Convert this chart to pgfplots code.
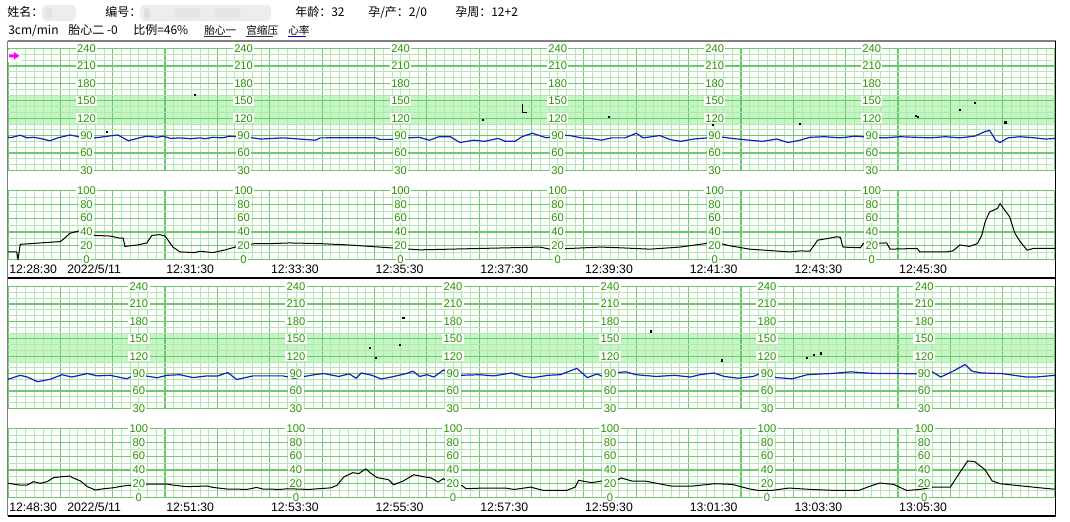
\documentclass[border=0pt]{standalone}
\usepackage{pgfplots}
\pgfplotsset{compat=1.18}
\usepackage{fontspec}
\setmainfont{Liberation Sans}
\newfontfamily\cjk{Noto Sans CJK SC}
\definecolor{gmaj}{RGB}{110,200,110}
\definecolor{gmin}{RGB}{180,230,180}
\definecolor{band}{RGB}{196,246,196}
\definecolor{lbl}{RGB}{40,150,0}
\definecolor{fhr}{RGB}{25,25,200}
\definecolor{pinkarr}{RGB}{255,0,255}
\definecolor{frm}{RGB}{128,128,128}
\pgfplotsset{
  ctg/.style={set layers, scale only axis, width=785.25pt, anchor=north west,
    xmin=0, xmax=1200, axis line style={draw=none},
    xtick={0,60,...,1200}, minor xtick={0,10,...,1200},
    xticklabels={}, yticklabels={}, tick style={draw=none},
    tick label style={overlay, text opacity=0},
    grid=both, major grid style={draw=gmaj, line width=0.9pt},
    minor grid style={draw=gmin, line width=0.6pt}},
  fhrax/.style={ctg, height=91.2pt, ymin=30, ymax=240,
    ytick={30,60,...,240}, minor ytick={30,40,...,240}},
  tocoax/.style={ctg, height=51.75pt, ymin=0, ymax=100,
    ytick={0,20,...,100}, minor ytick={0,10,...,100}},
  fhrline/.style={fhr, line width=0.9pt},
  tocoline/.style={black, line width=0.75pt},
  dots/.style={only marks, mark=square*, mark size=0.4pt, black},
  bandplot/.style={fill=band, draw=none, on layer=axis background, forget plot},
}
\begin{document}
\begin{tikzpicture}
\path (0,0) rectangle (802.5pt,-390.75pt);

% ---------- strip 1 FHR ----------
\begin{axis}[fhrax, at={(6pt,-36.525pt)}]
\addplot[bandplot] coordinates {(0,110)(1200,110)(1200,160)(0,160)(0,110)};
\addplot[fhrline] coordinates {
(0,87)(4,86.6)(14,90.6)(22,86)(29,87)(37,85)(48,81)(57,86)(71,91)(83,87.4)(94,85)(105,87)(117,89.4)(126,91)(138,81)(148,85)(159,89)(171,87)(178,89)(186,85)(197,86)(209,84.5)(220,86)(226,84.5)(235,87)(246,86)(254,89)(266,87.5)(281,86)
(289,84)(316,86)(352,82)(358,86)(421,86.4)(426,83.4)(439,83.4)(447,85)(471,87)(483,82)(494,88)(507,88)(518,78)(534,82)(546,80)(562,85)(570,80)(581,80)(589,88)(601,94)(617,86)(633,91)(644,90)(657,86)(668,85)(680,82)(692,86)(707,86)(720,94)(728,86)(747,90)(759,83)(771,80)(786,84)(802,86)(815,88)(830,85)(850,82)(865,80)(881,84)(894,78)(908,82)
(919,87)(936,88)(954,86)(971,89)(988,87)(1005,86)(1022,88)(1040,87)(1057,86)(1074,88)(1091,86)(1108,89)(1120,97)(1125,99)(1132,82)(1137,78)(1146,86)(1160,88)(1177,86)(1189,84)(1200,85)};
\addplot[dots] coordinates {(214,160)(113,96.3)(544,116.6)(689,121.8)(808,108)(907,109.6)(1040,123.5)(1043,121.8)(1091,134)(1108,146)(1143,113)};
\addplot[black, line width=0.7pt] coordinates {(590,144)(590,130)(595,130)};
\end{axis}

% ---------- strip 1 TOCO ----------
\begin{axis}[tocoax, at={(6pt,-142.875pt)}]
\addplot[tocoline] coordinates {
(0,11)(10,11)(11.5,0)(14,22)(37,24)(60,26)(64,30)(71,38)(83,42)(91,43)(97,35)(117,34)(128,31)(132,31)(134,19)(148,21)(159,24)(165,35)(174,36)(180,34)(189,18)(197,11)(214,10)(220,12)(235,10)(249,14)(266,20)(283,23)(300,23)
(323,24)(358,23)(392,21)(426,18)(472,14)(507,15)(541,16)(575,17)(610,18)(621,15)(644,16)(679,18)(701,17)(736,15)(770,18)(793,22)(810,25)(827,20)(850,15)(896,11)(908,12.5)(919,12)(928,28)(942,31)(950,33)(954,32)(957,18)(977,17)(980,23)(1007,24)(1011,15)(1042,16)(1045,11)(1076,11)(1083,12.5)(1091,21)(1102,19)(1111,23)(1116,35)(1120,55)(1125,69)(1134,74)(1137,81)(1141,74)(1148,62)(1154,38)(1160,26)(1168,13.5)(1175,16)(1200,16)};
\end{axis}

% ---------- strip 2 FHR ----------
\begin{axis}[fhrax, at={(6pt,-215.025pt)}]
\addplot[bandplot] coordinates {(0,110)(1200,110)(1200,160)(0,160)(0,110)};
\addplot[fhrline] coordinates {
(0,80)(14,87)(22,84)(34,76)(48,80)(62,88)(73,84)(91,90)(102,86)(117,87)(136,81)(148,89)(159,85.6)(171,82.7)(182,87)(197,88)(212,83)(228,86)(240,85.6)(252,91.8)(262,79.7)(281,86)(297,86)(315,86)
(328,81.9)(351,88)(362,90)(379,85)(391,89.4)(399,82)(405,91)(417,87)(428,80.6)(439,84)(455,89.4)(464,94)(472,85)(480,88)(488,84)(499,96)(508,89.4)(518,87)(541,88)(557,86)(577,91)(591,85)(602,83)(619,87)(633,88)(652,99)(664,83)(675,89.4)(683,84)(692,91)(708,93)(720,88)(743,85)(764,87)(782,84)(793,88)(809,91)(821,85)(837,82)(854,85)(864,91)(881,83)(899,81)(916,88)(933,89.4)(943,90)(966,93)(983,91)(999,90)(1022,90)(1044,89.4)(1056,96)(1069,84)(1083,94)(1097,105.6)(1105,94)(1116,91)(1139,90)(1167,84)(1178,84)(1200,87)};
\addplot[dots] coordinates {(453,186)(415,134)(422,118)(449,139)(737,163)(818,113)(916,118)(923,122)(931,125)};
\end{axis}

% ---------- strip 2 TOCO ----------
\begin{axis}[tocoax, at={(6pt,-321.375pt)}]
\addplot[tocoline] coordinates {
(0,20.6)(14,18)(22,18)(29,23)(37,20.6)(45,23)(52,28.7)(60,30)(71,31)(74,28.7)(83,24)(91,15.7)(100,10.9)(109,12.6)(120,14)(132,16.7)(143,18)(159,19.5)(182,19.5)(189,18)(205,15.7)(228,16.7)(235,14.6)(251,12.3)(274,11.8)(285,14.6)(292,12.3)(312,11.8)
(320,12.7)(345,11.7)(370,14)(377,17.6)(385,29.8)(395,36)(402,34.6)(410,41.5)(415,36)(423,28.8)(436,25.9)(442,18.5)(453,23.9)(465,33)(474,30.7)(485,28.3)(493,22.4)(499,27.3)(508,18.5)(520,17.6)(525,12.7)(544,13.7)(570,13.7)(580,11.7)(599,15)(614,10.2)(640,10.2)(650,15)(654,24.9)(669,21.5)(680,23.9)(690,20)(703,28.3)(715,23.9)(730,23.9)(750,19)(760,16.6)(785,16.6)(810,20)(830,19)(849,12.7)(860,10.2)(875,10.2)(895,13.7)(920,11.7)(950,10.2)(975,10.2)(985,15)(999,21)(1015,19)(1030,10.2)(1045,11.7)(1060,15)(1080,15)(1090,34.6)(1100,53)(1108,52)(1120,40)(1128,24)(1137,20)(1160,17)(1183,14)(1200,12)};
\end{axis}

% ---------- decorations, labels, header (pixel coordinates) ----------
\begin{scope}[x=0.75pt,y=-0.75pt]
  % frame
  \draw[frm, line width=1.5pt] (7.5,41) -- (1055.5,41);
  \draw[frm, line width=0.9pt] (7.5,41) -- (7.5,516);
  \draw[black, line width=0.9pt] (1055.5,41) -- (1055.5,516) -- (7.5,516);
  \draw[black, line width=0.8pt] (7.5,278) -- (1055.5,278);
  % pink arrow
  \fill[white] (8,50) rectangle (21,62);
  \fill[pinkarr] (9,54.3) -- (14,54.3) -- (14,52) -- (19.5,55.8) -- (14,59.6) -- (14,57.3) -- (9,57.3) -- cycle;
  % y labels
  \tikzset{lab/.style={fill=white, text=lbl, inner xsep=1pt, inner ysep=0.6pt, font=\fontsize{8.4pt}{8.4pt}\selectfont}}
  \foreach \off/\sh in {0/0,238/52.35}{
    \foreach \cx in {86.5,243.6,400.6,557.7,714.7,871.8}{
      \pgfmathsetmacro{\xx}{\cx+\sh}
      \foreach \v in {240,210,...,30}{
        \pgfmathsetmacro{\yy}{48.7+\off+(240-\v)*0.57905}
        \node[lab] at (\xx,\yy) {\v};
      }
      \foreach \v in {100,80,...,0}{
        \pgfmathsetmacro{\yy}{190.5+\off+(100-\v)*0.69}
        \node[lab] at (\xx,\yy) {\v};
      }
    }
  }
  % time labels
  \tikzset{tl/.style={anchor=base west, inner sep=0pt, font=\fontsize{9.2pt}{9.2pt}\selectfont}}
  \node[tl] at (9,273.5) {12:28:30};
  \node[tl] at (67,273.5) {2022/5/11};
  \foreach \s/\t in {180/12:31:30,300/12:33:30,420/12:35:30,540/12:37:30,660/12:39:30,780/12:41:30,900/12:43:30,1020/12:45:30}{
    \node[tl] at ({8+\s*0.8725+1},273.5) {\t};
  }
  \node[tl] at (9,511.5) {12:48:30};
  \node[tl] at (67,511.5) {2022/5/11};
  \foreach \s/\t in {180/12:51:30,300/12:53:30,420/12:55:30,540/12:57:30,660/12:59:30,780/13:01:30,900/13:03:30,1020/13:05:30}{
    \node[tl] at ({8+\s*0.8725+1},511.5) {\t};
  }
  % header
  \tikzset{hd/.style={anchor=base west, inner sep=0pt, font=\cjk\fontsize{9pt}{9pt}\selectfont}}
  \node[hd] at (7,16.5) {姓名：};
  \fill[gray!14, rounded corners=3pt] (42,5) rectangle (76,21);
  \fill[gray!22, rounded corners=2pt] (45,8) rectangle (52,19);
  \node[hd] at (105,16.5) {编号：};
  \fill[gray!14, rounded corners=3pt] (140,5) rectangle (271,21);
  \fill[gray!24, rounded corners=2pt] (144,8) rectangle (150,19);
  \fill[gray!20, rounded corners=2pt] (175,8) rectangle (200,18);
  \fill[gray!20, rounded corners=2pt] (215,8) rectangle (240,18);
  \node[hd] at (295,16.5) {年龄：32};
  \node[hd] at (368,16.5) {孕/产：2/0};
  \node[hd] at (455,16.5) {孕周：12+2};
  \node[hd] at (8,34) {3cm/min};
  \node[hd] at (68,34) {胎心二 -0};
  \node[hd] at (133,34) {比例=46\%};
  \node[hd, font=\cjk\fontsize{8pt}{8pt}\selectfont] at (204,34) {胎心一};
  \node[hd, font=\cjk\fontsize{8pt}{8pt}\selectfont] at (246,34) {宫缩压};
  \node[hd, font=\cjk\fontsize{8pt}{8pt}\selectfont] at (288,34) {心率};
  \draw[black!80, line width=0.6pt] (204,36.5) -- (231,36.5);
  \draw[black!80, line width=0.6pt] (246,36.5) -- (273,36.5);
  \draw[blue!80!black, line width=0.6pt] (288,36.5) -- (306,36.5);
\end{scope}
\end{tikzpicture}
\end{document}
